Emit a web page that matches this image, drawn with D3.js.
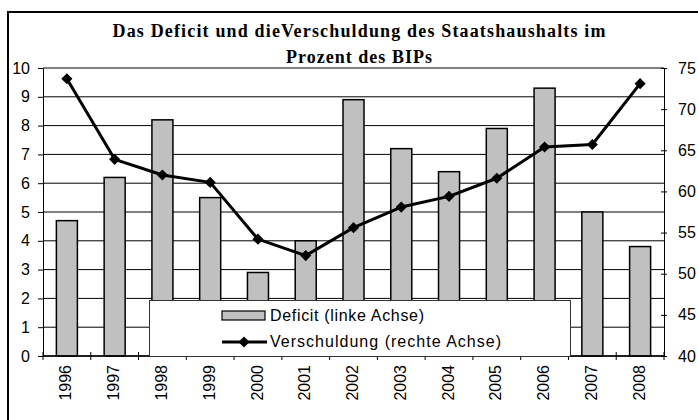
<!DOCTYPE html>
<html>
<head>
<meta charset="utf-8">
<script src="https://cdn.jsdelivr.net/npm/d3@7"></script>
<style>
  body { margin: 0; background: #fff; }
</style>
</head>
<body>
<svg id="chart" width="698" height="420" font-family="Liberation Sans, Arial, sans-serif"></svg>
<script>
// values
const years = ["1996", "1997", "1998", "1999", "2000", "2001", "2002", "2003", "2004", "2005", "2006", "2007", "2008"];
const deficit = [4.7, 6.2, 8.2, 5.5, 2.9, 4.0, 8.9, 7.2, 6.4, 7.9, 9.3, 5.0, 3.8];
const verschuldung = [73.7, 63.9, 62.0, 61.1, 54.2, 52.2, 55.6, 58.1, 59.4, 61.6, 65.4, 65.7, 73.1];
const leftTicks = [0, 1, 2, 3, 4, 5, 6, 7, 8, 9, 10];
const rightTicks = [40, 45, 50, 55, 60, 65, 70, 75];
const titleLines = ["Das Deficit und dieVerschuldung des Staatshaushalts im", "Prozent des BIPs"];
const legendLabels = ["Deficit (linke Achse)", "Verschuldung (rechte Achse)"];

const svg = d3.select("#chart");
const plot = { left: 43, right: 664, top: 68, bottom: 356 };
const sans = "Liberation Sans, Arial, sans-serif";

// outer frame (only left & top edges visible)
svg.append("path")
    .attr("d", `M8,430 L8,12 L710,12`)
    .attr("fill", "none")
    .attr("stroke", "#000")
    .attr("stroke-width", 2);

const x = d3.scaleBand()
    .domain(years)
    .range([plot.left, plot.right])
    .paddingInner(0.56)
    .paddingOuter(0.28);

const yL = d3.scaleLinear().domain([0, 10]).range([plot.bottom, plot.top]);
const yR = d3.scaleLinear().domain([40, 75]).range([plot.bottom, plot.top]);

// gridlines
svg.append("g")
    .selectAll("line")
    .data(leftTicks)
    .enter().append("line")
    .attr("x1", plot.left).attr("x2", plot.right)
    .attr("y1", d => yL(d)).attr("y2", d => yL(d))
    .attr("stroke", "#000")
    .attr("stroke-width", 1);

// bars
svg.append("g")
    .selectAll("rect")
    .data(deficit)
    .enter().append("rect")
    .attr("x", (d, i) => x(years[i]))
    .attr("y", d => yL(d))
    .attr("width", x.bandwidth())
    .attr("height", d => yL(0) - yL(d))
    .attr("fill", "#c0c0c0")
    .attr("stroke", "#000")
    .attr("stroke-width", 1.5);

// left axis
const leftAxis = svg.append("g")
    .attr("transform", `translate(${plot.left},0)`)
    .call(d3.axisLeft(yL).tickValues(leftTicks).tickSize(5).tickPadding(8).tickSizeOuter(0))
    .attr("font-family", sans)
    .attr("font-size", 16);
leftAxis.select(".domain").attr("stroke", "#000");
leftAxis.selectAll("text").attr("fill", "#000");

// right axis with cross ticks
const rightAxis = svg.append("g")
    .attr("transform", `translate(${plot.right},0)`)
    .call(d3.axisRight(yR).tickValues(rightTicks).tickSize(3).tickPadding(11).tickSizeOuter(0))
    .attr("font-family", sans)
    .attr("font-size", 16);
rightAxis.selectAll(".tick line").attr("x1", -3).attr("x2", 3);
rightAxis.selectAll("text").attr("fill", "#000");

// bottom axis line and cross ticks on category boundaries
svg.append("line")
    .attr("x1", plot.left).attr("x2", plot.right)
    .attr("y1", plot.bottom).attr("y2", plot.bottom)
    .attr("stroke", "#000").attr("stroke-width", 1.5);

const step = x.step();
svg.append("g")
    .selectAll("line")
    .data(d3.range(years.length + 1))
    .enter().append("line")
    .attr("x1", i => plot.left + i * step).attr("x2", i => plot.left + i * step)
    .attr("y1", plot.bottom - 4).attr("y2", plot.bottom + 4)
    .attr("stroke", "#000");

svg.append("g")
    .selectAll("text")
    .data(years)
    .enter().append("text")
    .attr("transform", d => `translate(${x(d) + x.bandwidth() / 2 - 1},${plot.bottom + 9}) rotate(-90)`)
    .attr("text-anchor", "end")
    .attr("dy", "0.35em")
    .attr("font-size", 16)
    .text(d => d);

// line series
const pts = verschuldung.map((v, i) => [x(years[i]) + x.bandwidth() / 2, yR(v)]);
svg.append("path")
    .attr("d", d3.line()(pts))
    .attr("fill", "none")
    .attr("stroke", "#000")
    .attr("stroke-width", 3)
    .attr("stroke-linejoin", "round");

const diamond = d3.symbol(d3.symbolSquare, 62);
svg.append("g")
    .selectAll("path")
    .data(pts)
    .enter().append("path")
    .attr("d", diamond)
    .attr("transform", d => `translate(${d[0]},${d[1]}) rotate(45)`)
    .attr("fill", "#000");

// legend
const lg = svg.append("g");
lg.append("rect")
    .attr("x", 149.5).attr("y", 300.5)
    .attr("width", 421).attr("height", 56)
    .attr("fill", "#fff")
    .attr("stroke", "#333")
    .attr("stroke-width", 1);
lg.append("rect")
    .attr("x", 222).attr("y", 311)
    .attr("width", 43).attr("height", 9)
    .attr("fill", "#c0c0c0")
    .attr("stroke", "#000")
    .attr("stroke-width", 1.2);
lg.append("line")
    .attr("x1", 222).attr("x2", 267)
    .attr("y1", 342).attr("y2", 342)
    .attr("stroke", "#000").attr("stroke-width", 3);
lg.append("path")
    .attr("d", diamond)
    .attr("transform", "translate(244,342) rotate(45)")
    .attr("fill", "#000");
lg.selectAll("text.leg")
    .data(legendLabels)
    .enter().append("text")
    .attr("class", "leg")
    .attr("x", 270)
    .attr("y", (d, i) => 321 + i * 26)
    .attr("font-size", 16)
    .attr("textLength", (d, i) => i === 0 ? 154 : 231)
    .attr("lengthAdjust", "spacing")
    .text(d => d);

// title
svg.append("g")
    .selectAll("text")
    .data(titleLines)
    .enter().append("text")
    .attr("x", 359)
    .attr("y", (d, i) => 37 + i * 26)
    .attr("text-anchor", "middle")
    .attr("font-family", "Liberation Serif, Times New Roman, serif")
    .attr("font-weight", "bold")
    .attr("font-size", 18)
    .attr("textLength", (d, i) => i === 0 ? 493 : 146)
    .attr("lengthAdjust", "spacing")
    .text(d => d);
</script>
</body>
</html>
